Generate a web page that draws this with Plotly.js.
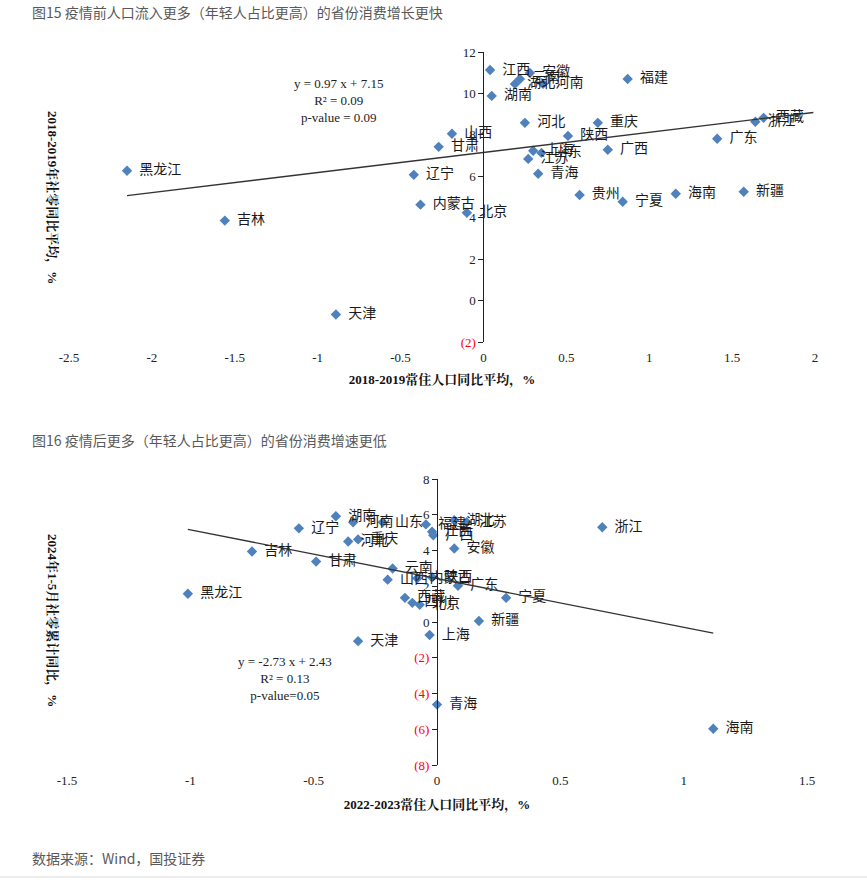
<!DOCTYPE html>
<html>
<head>
<meta charset="utf-8">
<script src="https://cdn.plot.ly/plotly-3.0.1.min.js"></script>
<style>
html,body{margin:0;padding:0;background:#fff;}
#chart{width:867px;height:880px;}
</style>
</head>
<body>
<div id="chart"></div>
<script>
// ---- Chart 1 (图15) ----
const prov1 = ['黑龙江','吉林','天津','辽宁','内蒙古','北京','甘肃','山西','江西','湖南','安徽','云南','湖北','河南','福建','河北','重庆','陕西','上海','山东','江苏','青海','广西','贵州','宁夏','海南','新疆','广东','浙江','西藏'];
const pop1 = [-2.15,-1.56,-0.89,-0.42,-0.38,-0.10,-0.27,-0.19,0.04,0.05,0.28,0.22,0.19,0.36,0.87,0.25,0.69,0.51,0.30,0.35,0.27,0.33,0.75,0.58,0.84,1.16,1.57,1.41,1.64,1.69];
const cons1 = [6.27,3.86,-0.67,6.07,4.63,4.24,7.42,8.05,11.13,9.88,10.99,10.70,10.46,10.46,10.70,8.58,8.58,7.95,7.23,7.13,6.84,6.12,7.28,5.10,4.77,5.16,5.25,7.81,8.63,8.82];
const slope1 = 0.97, intercept1 = 7.15;
const trendX1 = [-2.15, 1.99];
const xTicks1 = [-2.5,-2,-1.5,-1,-0.5,0,0.5,1,1.5,2];
const xTickText1 = ['-2.5','-2','-1.5','-1','-0.5','0','0.5','1','1.5','2'];
const yTicks1 = [-2,0,2,4,6,8,10,12];
const red = t => '<span style="color:#ff0000">' + t + '</span>';
const yTickText1 = [red('(2)'),'0','2','4','6','8','10','12'];
const eq1 = 'y = 0.97 x + 7.15<br>R² = 0.09<br>p-value = 0.09';

// ---- Chart 2 (图16) ----
const prov2 = ['黑龙江','吉林','辽宁','湖南','河南','山东','河北','重庆','甘肃','云南','山西','内蒙古','陕西','西藏','四川','北京','福建','江西','广西','湖北','江苏','安徽','广东','宁夏','新疆','浙江','海南','天津','上海','青海'];
const pop2 = [-1.01,-0.75,-0.56,-0.41,-0.34,-0.22,-0.36,-0.32,-0.49,-0.18,-0.20,-0.08,-0.02,-0.13,-0.10,-0.07,-0.045,-0.02,-0.015,0.07,0.12,0.07,0.085,0.28,0.17,0.67,1.12,-0.32,-0.03,0.0];
const cons2 = [1.58,3.94,5.24,5.92,5.58,5.58,4.50,4.62,3.38,2.99,2.37,2.45,2.50,1.35,1.07,0.96,5.46,5.05,4.85,5.69,5.58,4.11,2.03,1.35,0.06,5.30,-5.97,-1.07,-0.73,-4.62];
const slope2 = -2.73, intercept2 = 2.43;
const trendX2 = [-1.01, 1.12];
const xTicks2 = [-1.5,-1,-0.5,0,0.5,1,1.5];
const xTickText2 = ['-1.5','-1','-0.5','0','0.5','1','1.5'];
const yTicks2 = [-8,-6,-4,-2,0,2,4,6,8];
const yTickText2 = [red('(8)'),red('(6)'),red('(4)'),red('(2)'),'0','2','4','6','8'];
const eq2 = 'y = -2.73 x + 2.43<br>R² = 0.13<br>p-value=0.05';

// ---- geometry ----
const W = 867, H = 880;
const xr1 = [-2.5, 2], yr1 = [-2, 12];
const xr2 = [-1.5, 1.5], yr2 = [-8, 8];
const xd1 = [69/W, 815/W], yd1 = [1-342/H, 1-52/H];
const xd2 = [67/W, 807/W], yd2 = [1-765/H, 1-479/H];
const frac = (v, r) => (v - r[0])/(r[1]-r[0]);
const posAt = (d, r) => d[0] + (d[1]-d[0])*frac(0, r);

const serif = 'Liberation Serif, Times New Roman, serif';
const cjk = 'Noto Sans CJK SC, sans-serif';
const titleFont = 'Liberation Serif, Noto Serif CJK SC, Noto Sans CJK SC, serif';
const mColor = '#4F81BD';

const lineY = (xs, s, b) => xs.map(x => s*x + b);

const traces = [
  {x: pop1, y: cons1, text: prov1, texttemplate: '\u00a0\u00a0%{text}', mode: 'markers+text', type: 'scatter', xaxis: 'x', yaxis: 'y',
   textposition: 'middle right', textfont: {family: cjk, size: 14, color: '#1a1a1a'},
   marker: {symbol: 'diamond', size: 8, color: mColor}, cliponaxis: false, hoverinfo: 'skip'},
  {x: trendX1, y: lineY(trendX1, slope1, intercept1), mode: 'lines', type: 'scatter', xaxis: 'x', yaxis: 'y',
   line: {color: '#333', width: 1.3}, hoverinfo: 'skip'},
  {x: pop2, y: cons2, text: prov2, texttemplate: '\u00a0\u00a0%{text}', mode: 'markers+text', type: 'scatter', xaxis: 'x3', yaxis: 'y3',
   textposition: 'middle right', textfont: {family: cjk, size: 14, color: '#1a1a1a'},
   marker: {symbol: 'diamond', size: 8, color: mColor}, cliponaxis: false, hoverinfo: 'skip'},
  {x: trendX2, y: lineY(trendX2, slope2, intercept2), mode: 'lines', type: 'scatter', xaxis: 'x3', yaxis: 'y3',
   line: {color: '#333', width: 1.3}, hoverinfo: 'skip'}
];

const tickFont = {family: serif, size: 13, color: '#222'};

const layout = {
  width: W, height: H, margin: {l: 0, r: 0, t: 0, b: 0},
  paper_bgcolor: '#fff', plot_bgcolor: 'rgba(0,0,0,0)', showlegend: false,
  xaxis: {domain: xd1, range: xr1, anchor: 'y', showline: false, showgrid: false, zeroline: false,
          tickvals: xTicks1, ticktext: xTickText1, ticks: '', tickfont: tickFont, ticklabelstandoff: 6,
          title: {text: '<b>2018-2019常住人口同比平均，%</b>', font: {family: titleFont, size: 13, color: '#111'}, standoff: 10}},
  xaxis2: {overlaying: 'x', anchor: 'free', position: posAt(yd1, yr1), range: xr1, showline: true, linecolor: '#222',
           linewidth: 1, ticks: 'outside', ticklen: 5, tickcolor: '#222', tickvals: xTicks1, showticklabels: false,
           showgrid: false, zeroline: false},
  yaxis: {domain: yd1, range: yr1, anchor: 'free', position: posAt(xd1, xr1), showline: true, linecolor: '#222',
          linewidth: 1, ticks: 'outside', ticklen: 5, tickcolor: '#222', tickvals: yTicks1, ticktext: yTickText1,
          tickfont: tickFont, showgrid: false, zeroline: false},
  xaxis3: {domain: xd2, range: xr2, anchor: 'y3', showline: false, showgrid: false, zeroline: false,
           tickvals: xTicks2, ticktext: xTickText2, ticks: '', tickfont: tickFont, ticklabelstandoff: 6,
           title: {text: '<b>2022-2023常住人口同比平均，%</b>', font: {family: titleFont, size: 13, color: '#111'}, standoff: 12}},
  xaxis4: {overlaying: 'x3', anchor: 'free', position: posAt(yd2, yr2), range: xr2, showline: true, linecolor: '#222',
           linewidth: 1, ticks: 'outside', ticklen: 5, tickcolor: '#222', tickvals: xTicks2, showticklabels: false,
           showgrid: false, zeroline: false},
  yaxis3: {domain: yd2, range: yr2, anchor: 'free', position: posAt(xd2, xr2), showline: true, linecolor: '#222',
           linewidth: 1, ticks: 'outside', ticklen: 5, tickcolor: '#222', tickvals: yTicks2, ticktext: yTickText2,
           tickfont: tickFont, showgrid: false, zeroline: false},
  annotations: [
    {text: '图15 疫情前人口流入更多（年轻人占比更高）的省份消费增长更快', xref: 'paper', yref: 'paper',
     x: 30/W, y: 1-12/H, xanchor: 'left', yanchor: 'middle', showarrow: false,
     font: {family: cjk, size: 14, color: '#595959'}},
    {text: '图16 疫情后更多（年轻人占比更高）的省份消费增速更低', xref: 'paper', yref: 'paper',
     x: 30/W, y: 1-440/H, xanchor: 'left', yanchor: 'middle', showarrow: false,
     font: {family: cjk, size: 14, color: '#595959'}},
    {text: '数据来源：Wind，国投证券', xref: 'paper', yref: 'paper',
     x: 30/W, y: 1-858/H, xanchor: 'left', yanchor: 'middle', showarrow: false,
     font: {family: cjk, size: 14, color: '#595959'}},
    {text: '<b>2018-2019年社零同比平均，%</b>', xref: 'paper', yref: 'paper', textangle: 90,
     x: 52/W, y: 1-197/H, xanchor: 'center', yanchor: 'middle', showarrow: false,
     font: {family: titleFont, size: 13, color: '#111'}},
    {text: '<b>2024年1-5月社零累计同比，%</b>', xref: 'paper', yref: 'paper', textangle: 90,
     x: 52/W, y: 1-620/H, xanchor: 'center', yanchor: 'middle', showarrow: false,
     font: {family: titleFont, size: 13, color: '#111'}},
    {text: eq1, xref: 'paper', yref: 'paper', x: 338/W, y: 1-100/H, xanchor: 'center', yanchor: 'middle',
     showarrow: false, align: 'center', font: {family: serif, size: 13, color: '#222'}},
    {text: eq2, xref: 'paper', yref: 'paper', x: 285/W, y: 1-678/H, xanchor: 'center', yanchor: 'middle',
     showarrow: false, align: 'center', font: {family: serif, size: 13, color: '#222'}}
  ],
  shapes: [
    {type: 'line', xref: 'paper', yref: 'paper', x0: 0, x1: 1, y0: 1-877/H, y1: 1-877/H,
     line: {color: '#d9d9d9', width: 1}}
  ]
};

Plotly.newPlot('chart', traces, layout, {displayModeBar: false, staticPlot: true});
</script>
</body>
</html>
